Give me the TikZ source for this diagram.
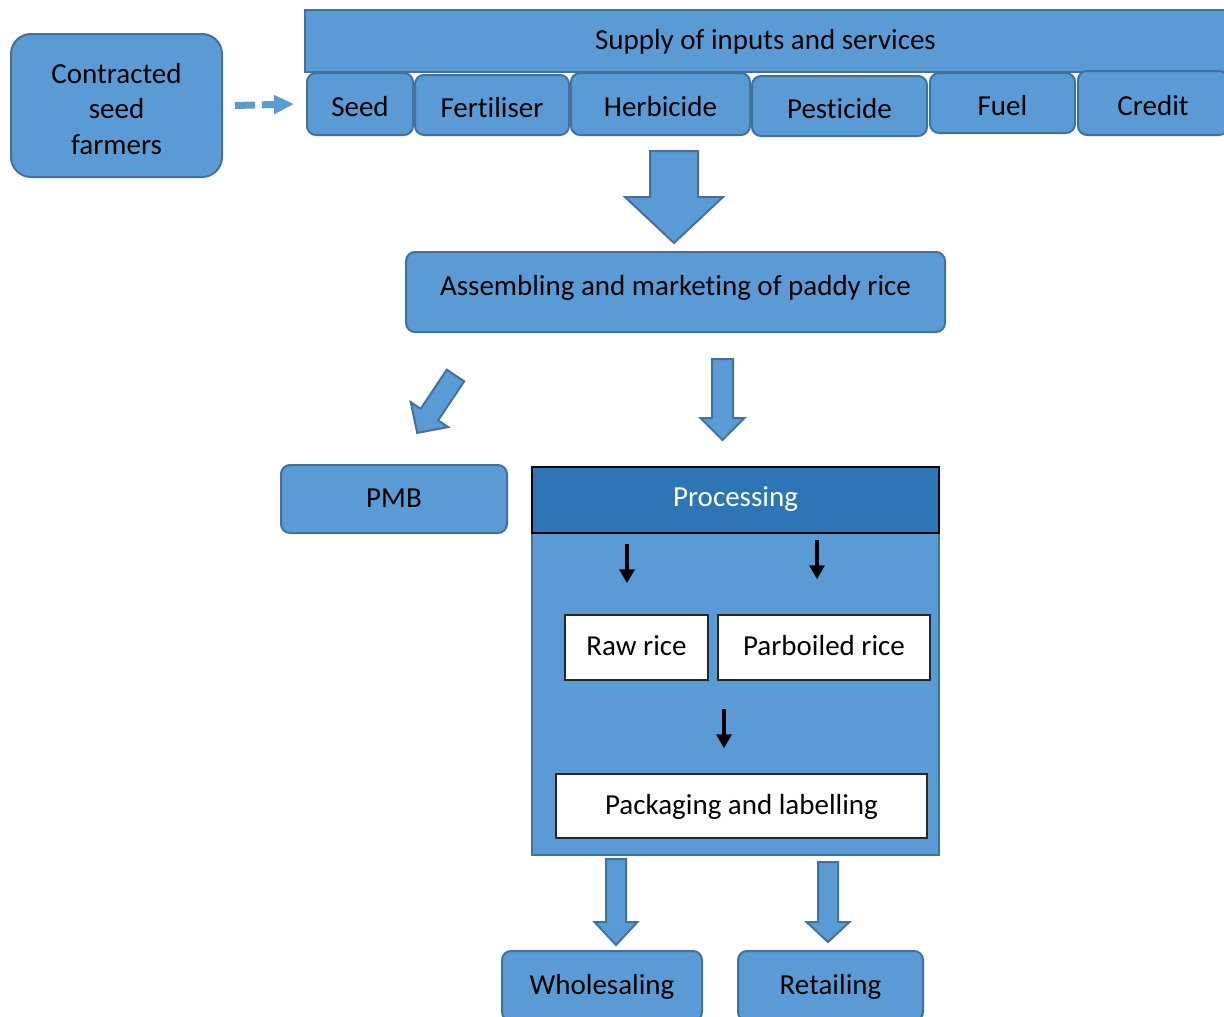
\documentclass[tikz,border=0pt]{standalone}
\usepackage{fontspec}
\setmainfont{Carlito}[Ligatures={NoCommon}]
\usetikzlibrary{arrows.meta}
\definecolor{boxblue}{HTML}{5B9BD5}
\definecolor{edgeblue}{HTML}{41719C}
\definecolor{headblue}{HTML}{2E75B6}

% block arrow: #1 top-centre, #2 rotation, #3 length, #4 shaft width, #5 head width, #6 head length
\newcommand\blockarrow[6]{%
  \begin{scope}[shift={#1}, rotate=#2]
    \draw[barrow] (-#4/2,0) -- (-#4/2,#3-#6) -- (-#5/2,#3-#6) -- (0,#3)
      -- (#5/2,#3-#6) -- (#4/2,#3-#6) -- (#4/2,0) -- cycle;
  \end{scope}}

\begin{document}
\begin{tikzpicture}[x=1pt, y=-1pt,
  font=\fontsize{29}{35.5}\selectfont,
  box/.style={draw=edgeblue, fill=boxblue, line width=2pt, rounded corners=9pt,
    inner sep=0pt, align=center},
  oneline/.style={text height=22pt, text depth=6pt},
  bar/.style={box, rounded corners=0pt, oneline},
  item/.style={box, oneline},
  topitem/.style={box, text height=28pt, text depth=4pt},
  header/.style={draw=black, fill=headblue, line width=1.8pt, text=white,
    inner sep=0pt, text height=20pt, text depth=8pt},
  body/.style={draw=edgeblue, fill=boxblue, line width=2.5pt, inner sep=0pt},
  whitebox/.style={draw=black!85, fill=white, line width=1.5pt, inner sep=0pt, oneline},
  barrow/.style={fill=boxblue, draw=edgeblue, line width=2pt, line join=miter},
  blk/.style={line width=4pt, -{Triangle[width=15pt,length=14pt]}},
  dasharrow/.style={draw=boxblue, line width=7pt, dash pattern=on 20pt off 7pt,
    -{Triangle[width=18pt,length=20pt]}}
]
\useasboundingbox (0,0) rectangle (1224,1017);

% suppliers
\node[box, rounded corners=20pt, minimum width=211, minimum height=143]
  (farmers) at (116.5,105.5) {\rule{0pt}{27pt}Contracted\\seed\\farmers};

% inputs and services
\node[bar, minimum width=921, minimum height=62] (supply) at (765.5,41)
  {Supply of inputs and services};
\node[topitem, minimum width=106, minimum height=62] (seed) at (360,104) {Seed};
\node[topitem, minimum width=154, minimum height=60] (fert) at (492,105) {Fertiliser};
\node[topitem, minimum width=179, minimum height=62] (herb) at (660.5,104) {Herbicide};
\node[topitem, minimum width=175, minimum height=60] (pest) at (839.5,106) {Pesticide};
\node[topitem, minimum width=145, minimum height=60] (fuel) at (1002.5,103) {Fuel};
\node[topitem, minimum width=150, minimum height=64] (credit) at (1153,103) {Credit};

\draw[dasharrow] ([xshift=12pt]farmers.east) -- ([xshift=-12pt]seed.west);

% assembling
\node[box, text height=22pt, text depth=15pt, minimum width=539, minimum height=80]
  (assemble) at (675.5,292) {Assembling and marketing of paddy rice};

\blockarrow{(674,151)}{0}{92}{48}{98}{46}

% PMB branch
\node[item, minimum width=226, minimum height=68] (pmb) at (394,499) {PMB};
\blockarrow{(455.5,375.5)}{-33.7}{69}{21}{45}{22}

% processing block
\node[body, minimum width=407, minimum height=322] (procbody) at (735.5,694) {};
\node[header, minimum width=407, minimum height=66] (proc) at (735.5,500) {Processing};
\blockarrow{(722.5,359)}{0}{81}{21}{44}{22}

\node[whitebox, minimum width=143, minimum height=65] (raw) at (636.5,647.5) {Raw rice};
\node[whitebox, minimum width=212, minimum height=65] (parb) at (824,647.5) {Parboiled rice};
\node[whitebox, minimum width=371, minimum height=64] (pack) at (741.5,806)
  {Packaging and labelling};

\draw[blk] ([xshift=-9.5pt,yshift=70pt]raw.north) -- ([xshift=-9.5pt,yshift=31pt]raw.north);
\draw[blk] ([xshift=-7pt,yshift=74pt]parb.north) -- ([xshift=-7pt,yshift=35pt]parb.north);
\draw[blk] ([xshift=-17.5pt,yshift=64pt]pack.north) -- ([xshift=-17.5pt,yshift=25pt]pack.north);

% distribution
\node[item, minimum width=200, minimum height=70] (whole) at (602,986) {Wholesaling};
\node[item, minimum width=185, minimum height=70] (retail) at (830.5,986) {Retailing};
\blockarrow{(616,859)}{0}{86}{20}{43}{23}
\blockarrow{(828,862)}{0}{80}{20}{43}{20}
\end{tikzpicture}
\end{document}
